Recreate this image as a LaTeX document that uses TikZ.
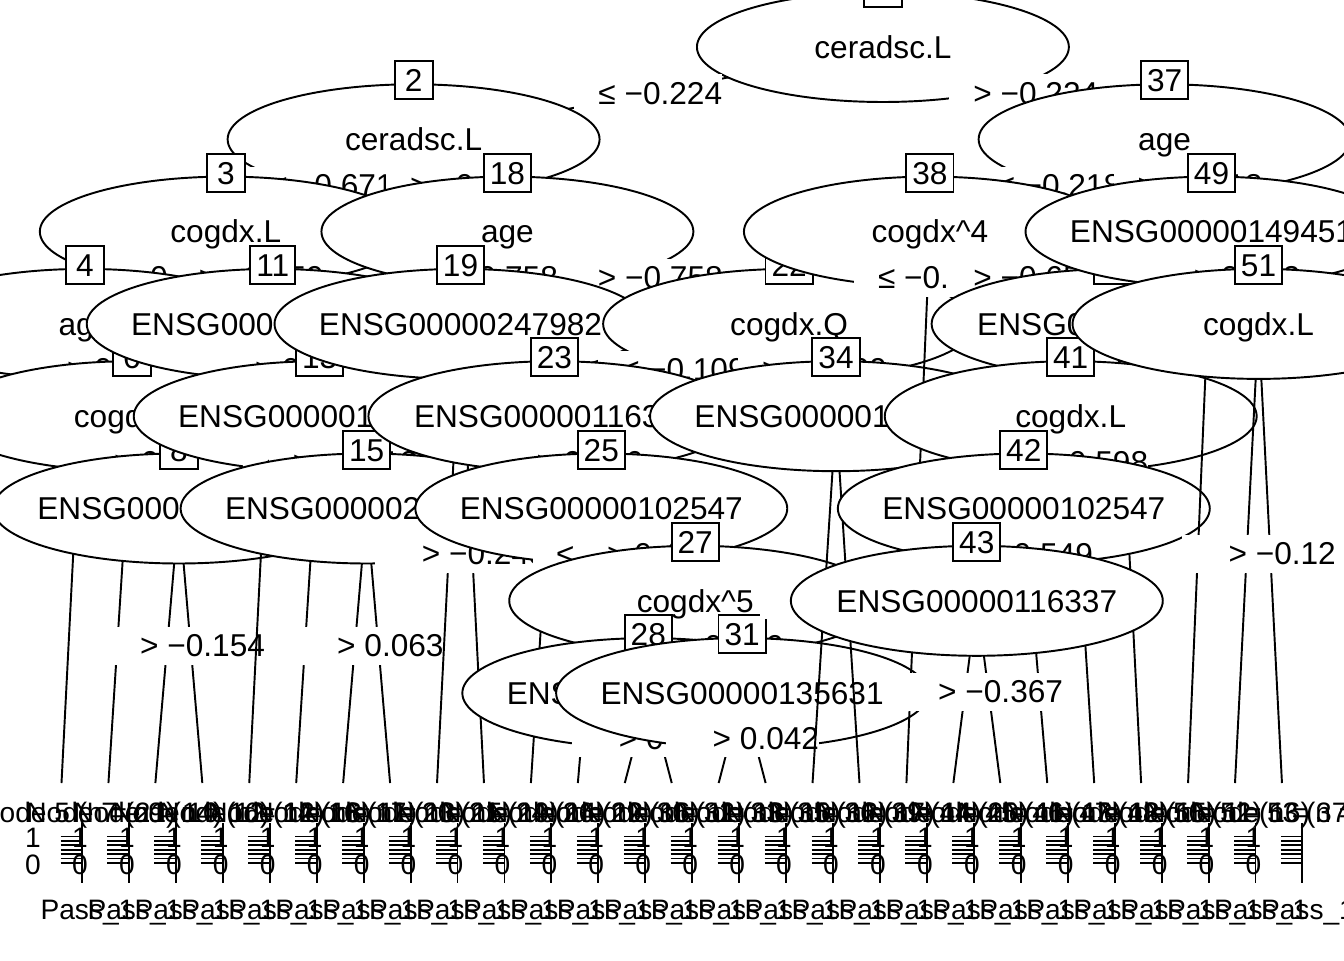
\documentclass[tikz,border=0pt]{standalone}
\usepackage{fontspec}
\setmainfont{Liberation Sans}
\usetikzlibrary{shapes.geometric, calc}

\newcommand{\treefont}{\fontsize{18}{21.6}\selectfont}
\newcommand{\leaffont}{\fontsize{16}{19.2}\selectfont}

\tikzset{
    edge/.style={line width=1.1pt},
    splitnode/.style={ellipse, draw, fill=white, line width=1.1pt, minimum width=7.44cm, minimum height=2.2cm, inner sep=0pt},
    splittext/.style={text height=0.45cm, text depth=0pt, inner sep=0pt},
    idbox/.style={rectangle, draw, fill=white, line width=1.1pt, inner xsep=0.12cm, inner ysep=0.15cm, text height=0.46cm, text depth=0pt, minimum width=0.76cm},
    edgelab/.style={fill=white, inner sep=0pt, minimum height=0.76cm},
    leaftext/.style={inner sep=0pt, font=\leaffont},
    axisline/.style={line width=1.1pt},
}

% ellipse of an inner node with its number box
\newcommand{\innernode}[2]{%
    \node[splitnode, label={[splittext]center:#2}] (n#1) at (p#1) {};
    \node[idbox] (b#1) at ([yshift=0.06cm]n#1.north) {#1};}
% white label box, text pushed to the right of the edge
\newcommand{\cut}[1]{\hspace*{0.48cm}#1}

\begin{document}
\begin{tikzpicture}[x=0.02cm, y=-0.02cm, font=\treefont]
    \clip (0,0) rectangle (1344,960);

    % Posizioni nodi interni
    \coordinate (p1) at (882.9,47);
    \coordinate (p2) at (413.6,139.3);
    \coordinate (p37) at (1164.6,139.3);
    \coordinate (p3) at (225.8,231.6);
    \coordinate (p18) at (507.4,231.6);
    \coordinate (p38) at (929.9,231.6);
    \coordinate (p49) at (1211.5,231.6);
    \coordinate (p4) at (85.0,323.9);
    \coordinate (p11) at (272.7,323.9);
    \coordinate (p19) at (460.5,323.9);
    \coordinate (p22) at (789.1,323.9);
    \coordinate (p40) at (1117.6,323.9);
    \coordinate (p51) at (1258.5,323.9);
    \coordinate (p6) at (131.9,416.2);
    \coordinate (p13) at (319.7,416.2);
    \coordinate (p23) at (554.4,416.2);
    \coordinate (p34) at (836.0,416.2);
    \coordinate (p41) at (1070.7,416.2);
    \coordinate (p8) at (178.9,508.5);
    \coordinate (p15) at (366.6,508.5);
    \coordinate (p25) at (601.3,508.5);
    \coordinate (p42) at (1023.8,508.5);
    \coordinate (p27) at (695.2,600.8);
    \coordinate (p43) at (976.8,600.8);
    \coordinate (p28) at (648.3,693.1);
    \coordinate (p31) at (742.1,693.1);

    % Posizioni foglie
    \foreach \k/\id in {0/5,1/7,2/9,3/10,4/12,5/14,6/16,7/17,8/20,9/21,10/24,11/26,12/29,13/30,14/32,15/33,16/35,17/36,18/39,19/44,20/45,21/46,22/47,23/48,24/50,25/52,26/53}
        \coordinate (t\id) at ({61.5+46.94*\k},783);

    % Nodo 1
    \draw[edge] (p1) -- (p2) (p1) -- (p37);
    \innernode{1}{ceradsc.L}
    \node[edgelab] (e2) at (648.3,93.2) {\cut{≤ −0.224}};
    \node[edgelab] (e37) at (1023.8,93.2) {\cut{> −0.224}};

    % Nodo 2
    \draw[edge] (p2) -- (p3) (p2) -- (p18);
    \innernode{2}{ceradsc.L}
    \node[edgelab] (e3) at (319.7,185.5) {\cut{≤ −0.671}};
    \node[edgelab] (e18) at (460.5,185.5) {\cut{> −0.671}};

    % Nodo 3
    \draw[edge] (p3) -- (p4) (p3) -- (p11);
    \innernode{3}{cogdx.L}
    \node[edgelab] (e4) at (155.4,277.8) {\cut{≤ −0.359}};
    \node[edgelab] (e11) at (249.3,277.8) {\cut{> −0.359}};

    % Nodo 4
    \draw[edge] (p4) -- (t5) (p4) -- (p6);
    \innernode{4}{age}
    \node[edgelab] (e5) at (82.6,370.1) {\cut{≤ 0.331}};
    \node[edgelab] (e6) at (108.4,370.1) {\cut{> 0.331}};

    % Nodo 6
    \draw[edge] (p6) -- (t7) (p6) -- (p8);
    \innernode{6}{cogdx.C}
    \node[edgelab] (e7) at (128.9,462.4) {\cut{≤ 0.298}};
    \node[edgelab] (e8) at (155.4,462.4) {\cut{> 0.298}};

    % Nodo 8
    \draw[edge] (p8) -- (t9) (p8) -- (t10);
    \innernode{8}{ENSG00000167815}
    \node[edgelab] (e9) at (167.2,645.8) {\cut{≤ −0.154}};
    \node[edgelab] (e10) at (190.6,645.8) {\cut{> −0.154}};

    % Nodo 11
    \draw[edge] (p11) -- (t12) (p11) -- (p13);
    \innernode{11}{ENSG00000170345}
    \node[edgelab] (e12) at (270.3,370.1) {\cut{≤ 0.127}};
    \node[edgelab] (e13) at (296.2,370.1) {\cut{> 0.127}};

    % Nodo 13
    \draw[edge] (p13) -- (t14) (p13) -- (p15);
    \innernode{13}{ENSG00000140807}
    \node[edgelab] (e14) at (316.7,462.4) {\cut{≤ −0.512}};
    \node[edgelab] (e15) at (343.2,462.4) {\cut{> −0.512}};

    % Nodo 15
    \draw[edge] (p15) -- (t16) (p15) -- (t17);
    \innernode{15}{ENSG00000204287}
    \node[edgelab] (e16) at (354.9,645.8) {\cut{≤ 0.063}};
    \node[edgelab] (e17) at (378.4,645.8) {\cut{> 0.063}};

    % Nodo 18
    \draw[edge] (p18) -- (p19) (p18) -- (p22);
    \innernode{18}{age}
    \node[edgelab] (e19) at (484.0,277.8) {\cut{≤ −0.758}};
    \node[edgelab] (e22) at (648.3,277.8) {\cut{> −0.758}};

    % Nodo 19
    \draw[edge] (p19) -- (t20) (p19) -- (t21);
    \innernode{19}{ENSG00000247982}
    \node[edgelab] (e20) at (448.8,553.5) {\cut{≤ −0.245}};
    \node[edgelab] (e21) at (472.3,553.5) {\cut{> −0.245}};

    % Nodo 22
    \draw[edge] (p22) -- (p23) (p22) -- (p34);
    \innernode{22}{cogdx.Q}
    \node[edgelab] (e23) at (671.8,370.1) {\cut{≤ −0.109}};
    \node[edgelab] (e34) at (812.6,370.1) {\cut{> −0.109}};

    % Nodo 23
    \draw[edge] (p23) -- (t24) (p23) -- (p25);
    \innernode{23}{ENSG00000116337}
    \node[edgelab] (e24) at (551.4,462.4) {\cut{≤ 0.236}};
    \node[edgelab] (e25) at (577.9,462.4) {\cut{> 0.236}};

    % Nodo 25
    \draw[edge] (p25) -- (t26) (p25) -- (p27);
    \innernode{25}{ENSG00000102547}
    \node[edgelab] (e26) at (597.3,554.7) {\cut{≤ 0.478}};
    \node[edgelab] (e27) at (648.3,554.7) {\cut{> 0.478}};

    % Nodo 27
    \draw[edge] (p27) -- (p28) (p27) -- (p31);
    \innernode{27}{cogdx\textasciicircum 5}
    \node[edgelab] (e28) at (671.8,647) {\cut{≤ 0.359}};
    \node[edgelab] (e31) at (718.7,647) {\cut{> 0.359}};

    % Nodo 28
    \draw[edge] (p28) -- (t29) (p28) -- (t30);
    \innernode{28}{ENSG00000184584}
    \node[edgelab] (e29) at (636.6,738.1) {\cut{≤ 0.081}};
    \node[edgelab] (e30) at (660.0,738.1) {\cut{> 0.081}};

    % Nodo 31
    \draw[edge] (p31) -- (t32) (p31) -- (t33);
    \innernode{31}{ENSG00000135631}
    \node[edgelab] (e32) at (730.4,738.1) {\cut{≤ 0.042}};
    \node[edgelab] (e33) at (753.9,738.1) {\cut{> 0.042}};

    % Nodo 34
    \draw[edge] (p34) -- (t35) (p34) -- (t36);
    \innernode{34}{ENSG00000108590}
    \node[edgelab] (e35) at (824.3,599.6) {\cut{≤ 0.317}};
    \node[edgelab] (e36) at (847.8,599.6) {\cut{> 0.317}};

    % Nodo 37
    \draw[edge] (p37) -- (p38) (p37) -- (p49);
    \innernode{37}{age}
    \node[edgelab] (e38) at (1047.3,185.5) {\cut{≤ −0.218}};
    \node[edgelab] (e49) at (1188.1,185.5) {\cut{> −0.218}};

    % Nodo 38
    \draw[edge] (p38) -- (t39) (p38) -- (p40);
    \innernode{38}{cogdx\textasciicircum 4}
    \node[edgelab] (e39) at (927.9,277.8) {\cut{≤ −0.655}};
    \node[edgelab] (e40) at (1023.8,277.8) {\cut{> −0.655}};

    % Nodo 40
    \draw[edge] (p40) -- (p41) (p40) -- (t48);
    \innernode{40}{ENSG00000166411}
    \node[edgelab] (e41) at (1094.2,370.1) {\cut{≤ −0.066}};
    \node[edgelab] (e48) at (1120.0,370.1) {\cut{> −0.066}};

    % Nodo 41
    \draw[edge] (p41) -- (p42) (p41) -- (t47);
    \innernode{41}{cogdx.L}
    \node[edgelab] (e42) at (1047.3,462.4) {\cut{≤ −0.598}};
    \node[edgelab] (e47) at (1073.7,462.4) {\cut{> −0.598}};

    % Nodo 42
    \draw[edge] (p42) -- (p43) (p42) -- (t46);
    \innernode{42}{ENSG00000102547}
    \node[edgelab] (e43) at (1000.3,554.7) {\cut{≤ 0.549}};
    \node[edgelab] (e46) at (1027.7,554.7) {\cut{> 0.549}};

    % Nodo 43
    \draw[edge] (p43) -- (t44) (p43) -- (t45);
    \innernode{43}{ENSG00000116337}
    \node[edgelab] (e44) at (965.1,691.9) {\cut{≤ −0.367}};
    \node[edgelab] (e45) at (988.6,691.9) {\cut{> −0.367}};

    % Nodo 49
    \draw[edge] (p49) -- (t50) (p49) -- (p51);
    \innernode{49}{ENSG00000149451}
    \node[edgelab] (e50) at (1209.5,277.8) {\cut{≤ 0.152}};
    \node[edgelab] (e51) at (1235.0,277.8) {\cut{> 0.152}};

    % Nodo 51
    \draw[edge] (p51) -- (t52) (p51) -- (t53);
    \innernode{51}{cogdx.L}
    \node[edgelab] (e52) at (1246.8,553.5) {\cut{≤ −0.12}};
    \node[edgelab] (e53) at (1270.2,553.5) {\cut{> −0.12}};

    % Pannelli terminali
    \foreach \k/\id/\n in {0/5/21,1/7/14,2/9/16,3/10/12,4/12/18,5/14/11,6/16/13,7/17/15,8/20/19,9/21/14,10/24/12,11/26/16,12/29/11,13/30/13,14/32/10,15/33/12,16/35/17,17/36/14,18/39/20,19/44/11,20/45/13,21/46/12,22/47/15,23/48/11,24/50/16,25/52/37,26/53/17}{
        \pgfmathsetmacro{\xx}{61.5+46.94*\k}
        \node[leaftext] (lab\id) at (\xx+16,815) {Node \id{} (n = \n)};
        \node[leaftext] (one\id) at (\xx-28.5,838) {1};
        \node[leaftext] (zero\id) at (\xx-28.5,865) {0};
        \foreach \j in {0,...,6}
            \draw[axisline] (\xx-1,836.5+4.4*\j) -- (\xx+20.5,836.5+4.4*\j);
        \draw[axisline] (\xx+20.5,823) -- (\xx+20.5,883);
        \node[leaftext] (cls\id) at (\xx+26,913) {Pass\_1};
    }
\end{tikzpicture}
\end{document}
